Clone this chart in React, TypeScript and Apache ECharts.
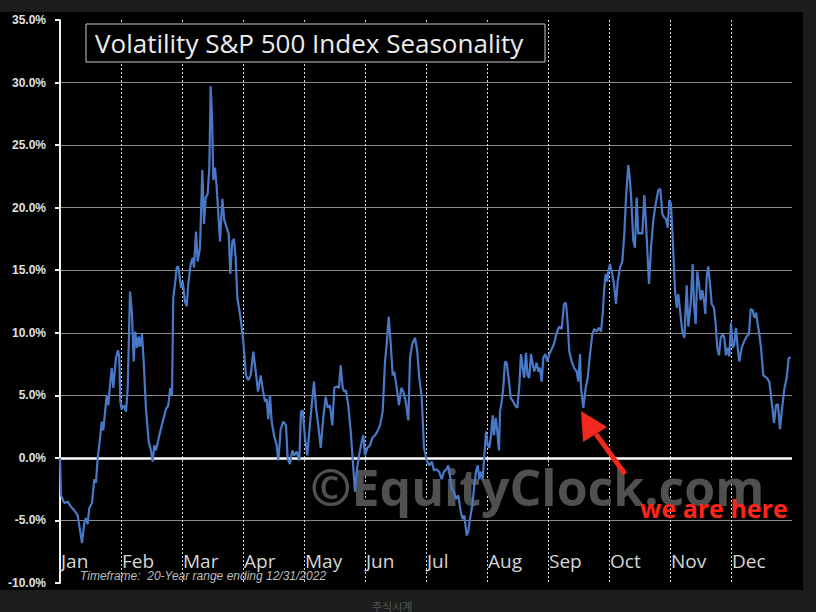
import React, { useEffect, useRef } from "react";
import * as echarts from "echarts";

// x position in months from Jan 1 (0 = Jan start, 12 = Dec end)
const monthPos = [
  0.000, 0.016, 0.070, 0.126, 0.180, 0.234, 0.290, 0.316, 0.361, 0.398, 0.426, 0.454, 0.480, 0.525, 0.562, 0.590,
  0.618, 0.644, 0.684, 0.710, 0.743, 0.766, 0.792, 0.820, 0.848, 0.874, 0.897, 0.918, 0.951, 0.972, 0.989,
  1.011, 1.044, 1.082, 1.110, 1.148, 1.180, 1.208, 1.234, 1.262, 1.290, 1.311, 1.344, 1.372, 1.410, 1.454,
  1.487, 1.520, 1.546, 1.574, 1.628, 1.684, 1.738, 1.775, 1.808, 1.836, 1.857, 1.890, 1.913, 1.939, 1.984,
  2.011, 2.049, 2.077, 2.103, 2.143, 2.175, 2.197, 2.230, 2.257, 2.295, 2.333, 2.361, 2.389, 2.421, 2.448,
  2.470, 2.492, 2.513, 2.541, 2.569, 2.595, 2.623, 2.661, 2.693, 2.733, 2.766, 2.792, 2.825, 2.852, 2.880,
  2.907, 2.934, 2.967, 3.005, 3.049, 3.087, 3.126, 3.169, 3.202, 3.246, 3.290, 3.323, 3.361, 3.389, 3.415,
  3.443, 3.470, 3.508, 3.552, 3.579, 3.618, 3.661, 3.705, 3.733, 3.770, 3.808, 3.836, 3.880, 3.923, 3.951,
  3.979, 4.016, 4.054, 4.087, 4.126, 4.164, 4.197, 4.234, 4.274, 4.316, 4.356, 4.389, 4.426, 4.464, 4.497,
  4.536, 4.574, 4.602, 4.634, 4.661, 4.689, 4.726, 4.766, 4.798, 4.836, 4.864, 4.902, 4.946, 4.972, 5.000,
  5.038, 5.082, 5.120, 5.164, 5.202, 5.246, 5.290, 5.328, 5.356, 5.389, 5.426, 5.454, 5.480, 5.520, 5.557,
  5.595, 5.628, 5.667, 5.710, 5.738, 5.775, 5.820, 5.857, 5.890, 5.930, 5.967, 6.011, 6.054, 6.093, 6.131,
  6.175, 6.213, 6.257, 6.295, 6.339, 6.366, 6.393, 6.421, 6.459, 6.492, 6.530, 6.569, 6.602, 6.628, 6.667,
  6.693, 6.721, 6.759, 6.792, 6.820, 6.848, 6.874, 6.902, 6.930, 6.956, 6.984, 7.011, 7.038, 7.066, 7.093,
  7.115, 7.143, 7.169, 7.197, 7.213, 7.241, 7.267, 7.295, 7.323, 7.361, 7.389, 7.431, 7.459, 7.497, 7.530,
  7.557, 7.585, 7.611, 7.639, 7.666, 7.693, 7.721, 7.749, 7.775, 7.815, 7.841, 7.869, 7.897, 7.923, 7.956,
  7.989, 8.021, 8.061, 8.098, 8.143, 8.185, 8.225, 8.262, 8.295, 8.323, 8.349, 8.389, 8.426, 8.470, 8.497,
  8.525, 8.541, 8.579, 8.618, 8.651, 8.689, 8.726, 8.759, 8.798, 8.836, 8.869, 8.897, 8.923, 8.946, 8.972,
  8.989, 9.016, 9.044, 9.082, 9.115, 9.143, 9.180, 9.218, 9.251, 9.279, 9.316, 9.344, 9.372, 9.398, 9.426,
  9.454, 9.480, 9.508, 9.546, 9.579, 9.607, 9.634, 9.656, 9.689, 9.726, 9.766, 9.808, 9.841, 9.874, 9.907,
  9.934, 9.962, 9.989, 10.016, 10.038, 10.082, 10.110, 10.136, 10.164, 10.202, 10.236, 10.274, 10.300, 10.339,
  10.372, 10.393, 10.421, 10.448, 10.475, 10.503, 10.530, 10.557, 10.579, 10.602, 10.628, 10.656, 10.684,
  10.721, 10.749, 10.775, 10.803, 10.831, 10.864, 10.890, 10.918, 10.946, 10.972, 11.000, 11.028, 11.054,
  11.082, 11.110, 11.136, 11.175, 11.213, 11.257, 11.295, 11.323, 11.356, 11.382, 11.410, 11.438, 11.464,
  11.492, 11.530, 11.585, 11.628, 11.667, 11.705, 11.738, 11.770, 11.803, 11.836, 11.874, 11.913, 11.946, 11.979,
];

// seasonal % change of VIX
const pctChange = [
  0, -3.0, -3.6, -3.5, -3.9, -4.2, -4.6, -5.4, -6.8, -5.2, -4.8, -5.3, -4.0, -3.6, -1.7, -2.0,
  0.0, 1.0, 2.9, 2.2, 3.9, 5.0, 4.2, 5.8, 7.2, 5.6, 6.9, 8.0, 8.6, 8.0, 4.5,
  3.9, 4.2, 3.7, 5.6, 13.3, 11.5, 7.7, 10.1, 8.8, 9.7, 8.9, 9.9, 7.7, 3.9, 1.3,
  0.7, -0.3, 1.0, 0.6, 1.8, 2.9, 3.9, 4.2, 5.6, 5.0, 12.8, 14.1, 15.2, 15.3, 13.6,
  14.1, 12.5, 12.1, 13.9, 15.5, 16.0, 15.2, 18.1, 15.7, 16.8, 23.0, 18.7, 20.8, 21.1, 23.2,
  29.7, 27.3, 22.2, 23.2, 21.6, 19.5, 17.3, 20.7, 19.0, 18.4, 17.9, 14.7, 17.3, 17.5, 16.0,
  12.8, 12.0, 10.9, 9.3, 6.6, 6.2, 6.6, 8.5, 7.2, 5.3, 6.6, 5.5, 4.5, 4.7, 3.1,
  5.0, 2.9, 1.8, 1.0, -0.2, 2.3, 2.9, 2.6, -0.1, -0.5, 0.6, 0.2, 0.5, -0.2, 3.7,
  3.8, 1.6, 0.2, 2.1, 4.2, 6.1, 4.0, 2.6, 0.8, 3.2, 4.9, 4.0, 4.2, 2.6, 5.6,
  5.7, 5.6, 7.4, 5.6, 5.3, 5.4, 4.2, 2.1, -0.1, -2.7, -1.1, 0.2, 1.3, 1.8, 0.2,
  0.8, 1.0, 1.6, 1.8, 2.1, 2.6, 3.7, 7.7, 9.1, 11.3, 8.8, 6.6, 6.9, 5.6, 4.2,
  5.6, 5.3, 4.5, 3.0, 8.0, 9.1, 9.6, 8.5, 6.4, 4.8, 0.8, -0.2, -0.6, -0.3, -1.0,
  -0.9, -1.1, -1.7, -1.1, -0.9, -0.6, -1.4, -2.5, -2.7, -3.3, -3.0, -4.3, -4.9, -4.6, -6.2,
  -5.9, -4.9, -3.8, -2.2, -1.1, -0.6, -1.7, -1.1, -1.7, 0.2, 2.1, 1.0, 0.8, 1.8, 3.4,
  1.8, 3.2, 2.1, 0.6, 3.7, 4.5, 5.6, 7.7, 7.6, 6.1, 4.8, 4.5, 4.2, 4.0, 5.8,
  8.3, 7.2, 6.4, 8.4, 6.6, 6.4, 8.3, 7.5, 6.9, 7.6, 6.9, 7.2, 6.1, 8.0, 8.3,
  7.7, 8.3, 8.7, 9.1, 10.0, 10.5, 10.3, 12.3, 12.4, 10.7, 8.5, 7.7, 7.2, 6.9, 6.1,
  8.3, 5.6, 4.0, 5.6, 6.4, 8.3, 9.9, 10.3, 10.1, 10.4, 10.1, 11.5, 13.6, 14.7, 14.1,
  14.9, 15.5, 14.9, 13.9, 12.3, 14.1, 15.2, 15.7, 17.9, 20.8, 23.4, 22.2, 20.0, 17.4, 16.8,
  20.8, 17.9, 18.0, 17.9, 21.0, 18.7, 16.0, 13.9, 16.8, 19.0, 20.3, 21.4, 21.5, 19.5, 19.2,
  19.1, 18.4, 20.6, 20.3, 18.2, 13.4, 12.0, 13.1, 11.8, 10.1, 9.6, 13.8, 10.5, 12.3,
  15.5, 12.3, 10.7, 14.9, 13.9, 12.6, 13.4, 12.6, 11.5, 14.5, 15.3, 13.9, 12.3,
  12.0, 10.7, 8.8, 8.2, 9.6, 9.9, 9.6, 8.2, 8.8, 8.1, 10.8, 8.8, 9.1,
  10.4, 8.8, 7.7, 8.8, 9.3, 9.7, 9.9, 11.9, 11.8, 11.2, 11.6, 10.7, 9.9,
  8.8, 6.6, 6.4, 6.1, 4.5, 2.8, 4.2, 4.3, 2.3, 3.9, 5.5, 6.4, 8.0, 8.0,
];

const monthLabels = ["Jan", "Feb", "Mar", "Apr", "May", "Jun", "Jul", "Aug", "Sep", "Oct", "Nov", "Dec"];
const yTicks = { min: -10, max: 35, step: 5 };

const titleText = "Volatility S&P 500 Index Seasonality";
const footnote = "Timeframe:  20-Year range ending 12/31/2022";
const watermark = "©EquityClock.com";
const callout = "we are here";

export default function App() {
  const ref = useRef<HTMLDivElement>(null);

  useEffect(() => {
    if (!ref.current) return;
    const chart = echarts.init(ref.current, null, { renderer: "svg" });
    const data = monthPos.map((x, i) => [x, pctChange[i]]);
    chart.setOption({
      animation: false,
      backgroundColor: "#000000",
      grid: { left: 60, right: 11, top: 8, bottom: 7, containLabel: false },
      xAxis: {
        type: "value",
        min: 0,
        max: 12,
        interval: 1,
        axisLine: { show: false },
        axisTick: { show: false },
        axisLabel: {
          inside: true,
          margin: 22,
          align: "left",
          verticalAlign: "middle",
          padding: [0, 0, 0, 1],
          color: "#d6d6d6",
          fontFamily: "Open Sans",
          fontSize: 19,
          showMaxLabel: false,
          formatter: (v: number) => monthLabels[Math.round(v)] ?? "",
        },
        splitLine: {
          show: true,
          showMinLine: false,
          showMaxLine: false,
          lineStyle: { color: "#d8d8d8", width: 1, type: [2, 2] },
        },
      },
      yAxis: {
        type: "value",
        min: yTicks.min,
        max: yTicks.max,
        interval: yTicks.step,
        axisLine: { show: true, lineStyle: { color: "#f0f0f0", width: 2 } },
        axisTick: { show: true, length: 5, lineStyle: { color: "#f0f0f0", width: 2 } },
        axisLabel: {
          margin: 14,
          color: "#e0e0e0",
          fontFamily: "Liberation Sans",
          fontWeight: "bold",
          fontSize: 12,
          formatter: (v: number) => `${v.toFixed(1)}%`,
        },
        splitLine: {
          show: true,
          showMinLine: false,
          showMaxLine: false,
          lineStyle: { color: "#8a8a8a", width: 1 },
        },
      },
      graphic: [
        {
          type: "text",
          z: 1,
          left: 310,
          top: 450,
          style: {
            text: watermark,
            fill: "#505050",
            font: "bold 50px 'Open Sans'",
          },
        },
        {
          type: "rect",
          z: 10,
          shape: { x: 86, y: 12, width: 459, height: 38 },
          style: { fill: "#000", stroke: "#c8c8c8", lineWidth: 1 },
        },
        {
          type: "text",
          z: 11,
          x: 95,
          y: 31,
          style: {
            text: titleText,
            fill: "#ececec",
            font: "26px 'Open Sans'",
            verticalAlign: "middle",
          },
        },
        {
          type: "text",
          z: 11,
          x: 80,
          y: 564,
          style: {
            text: footnote,
            fill: "#bdbdbd",
            font: "italic 12px 'Liberation Sans'",
            verticalAlign: "middle",
          },
        },
        {
          type: "line",
          z: 12,
          shape: { x1: 596, y1: 422, x2: 625, y2: 462 },
          style: { stroke: "#f0281e", lineWidth: 5 },
        },
        {
          type: "polygon",
          z: 12,
          shape: { points: [[581, 399], [583, 430], [607, 415]] },
          style: { fill: "#f0281e" },
        },
        {
          type: "text",
          z: 12,
          x: 640,
          y: 496,
          style: {
            text: callout,
            fill: "#ff2418",
            font: "bold 25px 'Open Sans'",
            verticalAlign: "middle",
          },
        },
      ],
      series: [
        {
          type: "line",
          data,
          showSymbol: false,
          symbol: "none",
          z: 5,
          lineStyle: { color: "#4a78c8", width: 2.2 },
          markLine: {
            silent: true,
            symbol: "none",
            label: { show: false },
            lineStyle: { color: "#ffffff", width: 2.5, type: "solid" },
            data: [{ yAxis: 0 }],
          },
        },
      ],
    });
    return () => chart.dispose();
  }, []);

  return (
    <div style={{ position: "absolute", left: 0, top: 0, width: 816, height: 612, background: "#1c1c1c", overflow: "hidden" }}>
      <div ref={ref} style={{ position: "absolute", left: 0, top: 12, width: 803, height: 578 }} />
      <div style={{ position: "absolute", left: 372, top: 598, color: "#555", fontSize: 11, fontFamily: "'Noto Sans CJK KR'" }}>주식시계</div>
    </div>
  );
}
